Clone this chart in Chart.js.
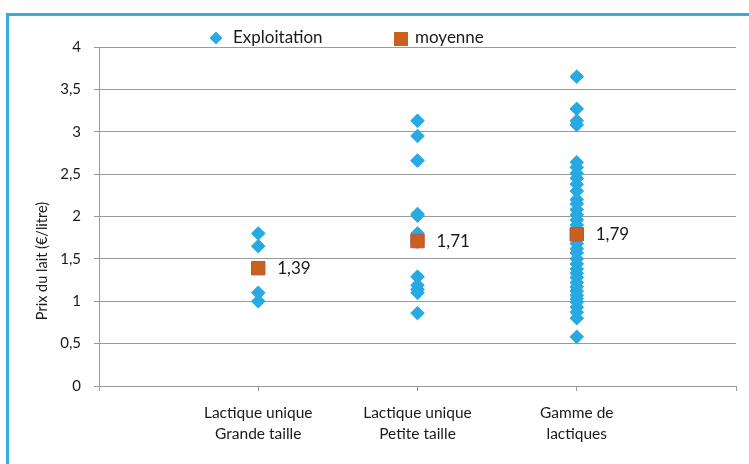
<!DOCTYPE html>
<html>
<head>
<meta charset="utf-8">
<script src="https://cdn.jsdelivr.net/npm/chart.js@4/dist/chart.umd.min.js"></script>
<style>
html,body{margin:0;padding:0;background:#fff;overflow:hidden;}
#wrap{position:relative;width:749px;height:464px;}
#frame{position:absolute;left:6px;top:13px;width:800px;height:500px;border-left:3px solid #33ACE2;border-top:3px solid #33ACE2;}
canvas{position:absolute;left:0;top:0;}
</style>
</head>
<body>
<div id="wrap">
<div id="frame"></div>
<canvas id="c" width="749" height="464"></canvas>
</div>
<script>
const categories = [["Lactique unique","Grande taille"],["Lactique unique","Petite taille"],["Gamme de","lactiques"]];
const grandeTaille = [1.80, 1.65, 1.10, 1.00];
const petiteTaille = [3.13, 2.95, 2.66, 2.03, 2.01, 1.80, 1.70, 1.29, 1.19, 1.14, 1.10, 0.86];
const gammeLactiques = [3.65, 3.27, 3.13, 3.08, 2.64, 2.58, 2.51, 2.45, 2.38, 2.30, 2.20, 2.15, 2.08, 2.02, 1.96, 1.90, 1.85, 1.80, 1.74, 1.68, 1.62, 1.57, 1.50, 1.44, 1.38, 1.33, 1.28, 1.22, 1.17, 1.12, 1.07, 1.03, 0.99, 0.93, 0.87, 0.80, 0.58];
const moyennes = [1.39, 1.71, 1.79];
const yTicks = [0, 0.5, 1, 1.5, 2, 2.5, 3, 3.5, 4];
const seriesNames = ["Exploitation", "moyenne"];
const yTitle = "Prix du lait (€/litre)";

const BLUE = '#27A9E1';
const ORANGE = '#C9601C';
const FONT = 'Lato, "Open Sans", sans-serif';

const groups = [grandeTaille, petiteTaille, gammeLactiques];
const exploitPts = [];
groups.forEach((g, i) => g.forEach(v => exploitPts.push({x: i + 1, y: v})));
const meanPts = moyennes.map((v, i) => ({x: i + 1, y: v}));
const fmt = v => String(v).replace('.', ',');

const extras = {
  id: 'extras',
  afterDatasetsDraw(chart) {
    const ctx = chart.ctx;
    const meta = chart.getDatasetMeta(0);
    ctx.save();
    ctx.fillStyle = '#1a1a1a';
    ctx.font = '17px ' + FONT;
    ctx.textBaseline = 'middle';
    ctx.textAlign = 'left';
    meta.data.forEach((el, i) => {
      ctx.fillText(fmt(moyennes[i]), el.x + 19, el.y);
    });
    ctx.restore();
  },
  afterDraw(chart) {
    const ctx = chart.ctx;
    ctx.save();
    // legend
    ctx.font = '17px ' + FONT;
    ctx.textBaseline = 'middle';
    ctx.fillStyle = BLUE;
    ctx.beginPath();
    ctx.moveTo(216, 31.5); ctx.lineTo(222.5, 38); ctx.lineTo(216, 44.5); ctx.lineTo(209.5, 38); ctx.closePath();
    ctx.fill();
    ctx.fillStyle = '#1a1a1a';
    ctx.fillText(seriesNames[0], 233, 38);
    ctx.fillStyle = ORANGE;
    ctx.fillRect(394, 32, 14, 14);
    ctx.fillStyle = '#1a1a1a';
    ctx.fillText(seriesNames[1], 415, 38);
    // y title
    ctx.translate(42, 261);
    ctx.rotate(-Math.PI / 2);
    ctx.textAlign = 'center';
    ctx.font = '14.5px ' + FONT;
    ctx.fillText(yTitle, 0, 0);
    ctx.restore();
  }
};

new Chart(document.getElementById('c'), {
  type: 'scatter',
  data: {
    datasets: [
      {
        label: seriesNames[1],
        data: meanPts,
        order: 0,
        pointStyle: 'rect',
        pointRadius: 9.5,
        pointHoverRadius: 9.5,
        backgroundColor: ORANGE,
        borderColor: '#C0504D',
        borderWidth: 1
      },
      {
        label: seriesNames[0],
        data: exploitPts,
        order: 1,
        pointStyle: 'rectRot',
        pointRadius: 6.8,
        pointHoverRadius: 6.8,
        backgroundColor: BLUE,
        borderColor: BLUE,
        borderWidth: 1
      }
    ]
  },
  options: {
    responsive: false,
    animation: false,
    events: [],
    layout: {padding: {top: 47, right: 13, left: 0, bottom: 0}},
    plugins: {legend: {display: false}, tooltip: {enabled: false}},
    scales: {
      x: {
        type: 'linear',
        min: 0, max: 4,
        afterFit(s) { s.height = 78; },
        afterBuildTicks(s) { s.ticks = [0,1,2,3,4].map(v => ({value: v})); },
        ticks: {
          autoSkip: false,
          maxRotation: 0,
          padding: 12,
          color: '#1a1a1a',
          font: {family: FONT, size: 15.5, lineHeight: 1.35},
          callback: (v) => (v >= 1 && v <= 3) ? categories[v - 1] : ''
        },
        grid: {drawOnChartArea: false, drawTicks: true, tickLength: 5, color: '#9A9A9A'},
        border: {display: true, color: '#9A9A9A', width: 1}
      },
      y: {
        min: 0, max: 4,
        afterFit(s) { s.width = 99; },
        afterBuildTicks(s) { s.ticks = yTicks.map(v => ({value: v})); },
        ticks: {
          padding: 13,
          color: '#1a1a1a',
          font: {family: FONT, size: 15},
          callback: v => fmt(v)
        },
        grid: {drawOnChartArea: true, drawTicks: true, tickLength: 5, color: '#9A9A9A'},
        border: {display: true, color: '#9A9A9A', width: 1}
      }
    }
  },
  plugins: [extras]
});
</script>
</body>
</html>
